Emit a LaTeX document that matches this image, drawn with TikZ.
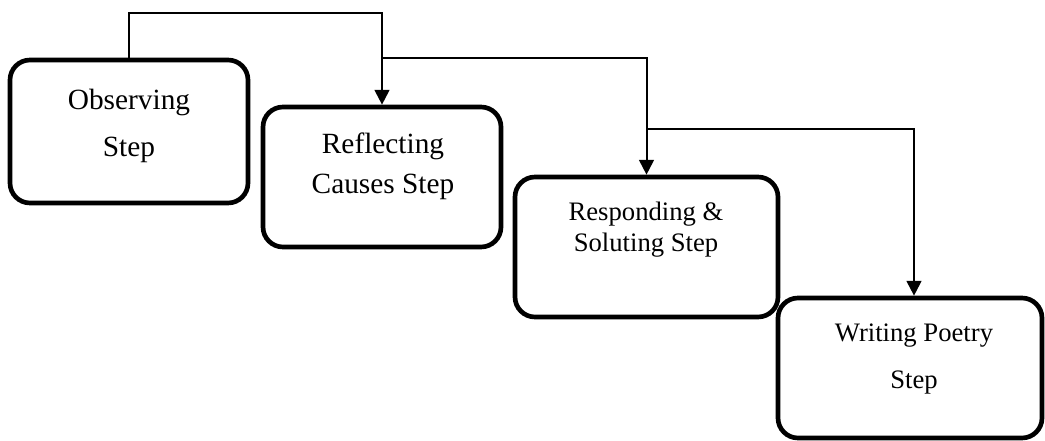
\documentclass[tikz,border=0pt]{standalone}
\usepackage{fontspec}
\setmainfont{Liberation Serif}
\usetikzlibrary{arrows.meta}
\tikzset{
  stepbox/.style={draw, line width=3.5pt, rounded corners=15pt, inner sep=0pt, fill=white},
  steptext/.style={align=center, inner sep=0pt},
  conn/.style={line width=1.5pt},
  arr/.style={conn, -{Triangle[width=11pt,length=11pt]}}
}
\begin{document}
\begin{tikzpicture}[x=0.75pt,y=-0.75pt]
\useasboundingbox (0,0) rectangle (1045,441);
\node[stepbox, minimum width=178.5pt, minimum height=107.25pt] (b1) at (129,131.5) {};
\node[stepbox, minimum width=178.5pt, minimum height=105pt] (b2) at (382,177) {};
\node[stepbox, minimum width=197.25pt, minimum height=105pt] (b3) at (646.5,247) {};
\node[stepbox, minimum width=198pt, minimum height=105pt] (b4) at (910,368) {};
\node[steptext, font=\fontsize{22}{35.25}\selectfont] (t1) at (129,126) {Observing\\Step};
\node[steptext, font=\fontsize{22}{30}\selectfont] (t2) at (383,166) {Reflecting\\Causes Step};
\node[steptext, font=\fontsize{20}{23.25}\selectfont] (t3) at (646,230) {Responding \&\\Soluting Step};
\node[steptext, font=\fontsize{20}{35.25}\selectfont] (t4) at (914,359) {Writing Poetry\\Step};
\coordinate (c1) at (b1.north |- 0,13);
\coordinate (j1) at (b2.north |- 0,58);
\coordinate (j2) at (b3.north |- 0,129);
\draw[arr] (b1.north) -- (c1) -| (b2.north);
\draw[arr] (j1) -| (b3.north);
\draw[arr] (j2) -| ([xshift=3pt]b4.north);
\end{tikzpicture}
\end{document}
